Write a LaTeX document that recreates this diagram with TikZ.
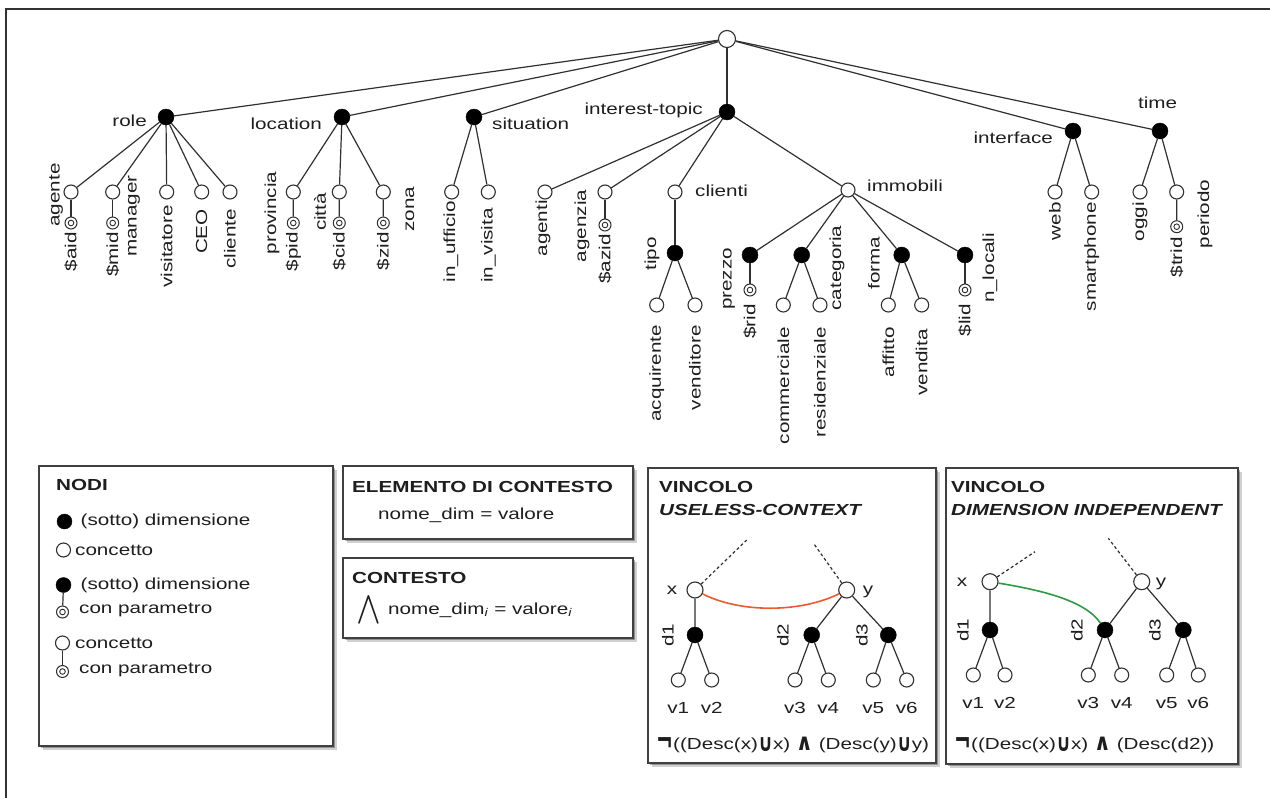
\documentclass[tikz,border=0pt]{standalone}
\usepackage{fontspec}
\setmainfont{Liberation Sans}[FakeStretch=1.29]
\newfontfamily\symfont{DejaVu Sans}[FakeStretch=1.1]
\usetikzlibrary{shadows}
\definecolor{ink}{HTML}{1E1E1E}
\definecolor{linec}{HTML}{303030}
\definecolor{uselessred}{HTML}{EE5A2F}
\definecolor{indepgreen}{HTML}{2F9A45}
% heavy logical operators used in the constraint formulas
\newcommand{\unionop}{\raisebox{-1.5pt}{\scalebox{1.05}[1.5]{\symfont\bfseries ∪}}}
\newcommand{\andop}{\raisebox{-0.5pt}{\scalebox{1.2}[1.45]{\symfont\bfseries ∧}}}
\newcommand{\notop}{\raisebox{-3pt}{\scalebox{1.15}[2.1]{\symfont\bfseries ¬}}}
\newcommand{\idx}{\textsubscript{\textit{i}}}

\begin{document}
\begin{tikzpicture}[x=1pt, y=-1pt,
  font=\fontsize{16pt}{19pt}\selectfont,
  edge/.style={draw=linec, line width=1.2pt},
  dash edge/.style={draw=linec, line width=1.2pt, dash pattern=on 3pt off 2.5pt},
  dim/.style={circle, fill=black, draw=black, minimum size=16pt, inner sep=0pt},
  conc/.style={circle, fill=white, draw=linec, line width=1.1pt, minimum size=14pt, inner sep=0pt},
  par/.style={circle, fill=white, draw=linec, line width=1pt, minimum size=12pt, inner sep=0pt,
    path picture={\draw[linec, line width=0.9pt] (path picture bounding box.center) circle (2.8pt);}},
  lbl/.style={inner sep=0pt, text=ink},
  vlbl/.style={lbl, rotate=90},
  hang/.style={vlbl, anchor=east},
  panel/.style={draw=black!75, line width=1.5pt, fill=white, inner sep=0pt, anchor=north west,
    drop shadow={shadow xshift=4pt, shadow yshift=-4pt, fill=black, opacity=0.18},
    drop shadow={shadow xshift=2pt, shadow yshift=-2pt, fill=black, opacity=0.3}},
  title/.style={lbl, font=\fontsize{16pt}{19pt}\selectfont\bfseries, anchor=west},
  frame/.style={draw=black!80, line width=1.5pt}]

\useasboundingbox (0,0) rectangle (1270,798);

% outer frame (top and left edges)
\coordinate (fr-tr) at (1270,9);
\coordinate (fr-tl) at (6,9);
\coordinate (fr-bl) at (6,798);
\draw[frame] (fr-tr) -- (fr-tl) -- (fr-bl);

% ---------------- context dimension tree ----------------
\node[conc, minimum size=17pt] (root) at (727,39) {};
\node[dim] (role) at (166,117) {};
\node[dim] (location) at (342,117) {};
\node[dim] (situation) at (474,117) {};
\node[dim] (topic) at (727,112) {};
\node[dim] (interface) at (1073,131) {};
\node[dim] (time) at (1160,131) {};
\foreach \d in {role,location,situation,topic,interface,time}
  \draw[edge] (root) -- (\d);

\node[lbl, anchor=base east] (l-role) at (147,126.5) {role};
\node[lbl, anchor=base east] (l-location) at (322,129) {location};
\node[lbl, anchor=base west] (l-situation) at (492,129) {situation};
\node[lbl, anchor=base east] (l-topic) at (703,114) {interest-topic};
\node[lbl, anchor=base east] (l-interface) at (1053,143.3) {interface};
\node[lbl, anchor=base] (l-time) at (1157.5,108.3) {time};

% role
\foreach \n/\x in {agente/71,manager/112.7,visitatore/166.7,ceo/201.7,cliente/230}{
  \node[conc] (\n) at (\x,192) {};
  \draw[edge] (role) -- (\n);}
\node[par] (aid) at (71,223) {};
\node[par] (mid) at (112.7,223) {};
\draw[edge] (agente) -- (aid) (manager) -- (mid);
\node[vlbl] (l-agente) at (56,195) {agente};
\node[hang] (l-aid) at (71,232) {\$aid};
\node[hang] (l-mid) at (112.7,232) {\$mid};
\node[vlbl] (l-manager) at (134,216) {manager};
\node[hang] (l-visitatore) at (166.7,205) {visitatore};
\node[hang] (l-ceo) at (201.7,209) {CEO};
\node[hang] (l-cliente) at (230,209) {cliente};

% location
\foreach \n/\x/\p in {provincia/293.3/pid,citta/339.3/cid,zona/383.3/zid}{
  \node[conc] (\n) at (\x,192) {};
  \node[par] (\p) at (\x,223) {};
  \draw[edge] (location) -- (\n) (\n) -- (\p);}
\node[vlbl] (l-provincia) at (272,213) {provincia};
\node[hang] (l-pid) at (293.3,232) {\$pid};
\node[vlbl] (l-citta) at (320,212) {città};
\node[hang] (l-cid) at (339.3,232) {\$cid};
\node[hang] (l-zid) at (383.3,232) {\$zid};
\node[vlbl] (l-zona) at (410,209) {zona};

% situation
\node[conc] (ufficio) at (451.7,192) {};
\node[conc] (visita) at (488.3,192) {};
\draw[edge] (situation) -- (ufficio) (situation) -- (visita);
\node[hang] (l-ufficio) at (451,201) {in\_ufficio};
\node[hang] (l-visita) at (488.3,208) {in\_visita};

% interest-topic
\node[conc] (agenti) at (545,192) {};
\node[conc] (agenzia) at (605,192) {};
\node[conc] (clienti) at (675,192) {};
\node[conc] (immobili) at (848,190) {};
\foreach \n in {agenti,agenzia,clienti,immobili} \draw[edge] (topic) -- (\n);
\node[par] (azid) at (605,225) {};
\draw[edge] (agenzia) -- (azid);
\node[hang] (l-agenti) at (543,200) {agenti};
\node[vlbl] (l-agenzia) at (582,226) {agenzia};
\node[hang] (l-azid) at (605,234) {\$azid};
\node[lbl, anchor=base west] (l-clienti) at (695,196) {clienti};
\node[lbl, anchor=base west] (l-immobili) at (867,191.5) {immobili};

% clienti
\node[dim] (tipo) at (675,253) {};
\draw[edge] (clienti) -- (tipo);
\node[conc] (acquirente) at (656.7,305) {};
\node[conc] (venditore) at (695,305) {};
\draw[edge] (tipo) -- (acquirente) (tipo) -- (venditore);
\node[vlbl] (l-tipo) at (652,254) {tipo};
\node[hang] (l-acquirente) at (656.7,325) {acquirente};
\node[hang] (l-venditore) at (695,325) {venditore};

% immobili
\node[dim] (prezzo) at (750,255) {};
\node[dim] (categoria) at (801.7,255) {};
\node[dim] (forma) at (901.7,255) {};
\node[dim] (nlocali) at (965,255) {};
\foreach \n in {prezzo,categoria,forma,nlocali} \draw[edge] (immobili) -- (\n);
\node[par] (rid) at (750,290) {};
\node[par] (lid) at (965,290) {};
\draw[edge] (prezzo) -- (rid) (nlocali) -- (lid);
\node[conc] (commerciale) at (783.3,305) {};
\node[conc] (residenziale) at (820,305) {};
\node[conc] (affitto) at (888.3,305) {};
\node[conc] (vendita) at (921.7,305) {};
\draw[edge] (categoria) -- (commerciale) (categoria) -- (residenziale)
            (forma) -- (affitto) (forma) -- (vendita);
\node[vlbl] (l-prezzo) at (729,279) {prezzo};
\node[hang] (l-rid) at (750,304) {\$rid};
\node[vlbl] (l-categoria) at (837,268) {categoria};
\node[hang] (l-commerciale) at (783.3,327) {commerciale};
\node[hang] (l-residenziale) at (820,327) {residenziale};
\node[vlbl] (l-forma) at (874,263) {forma};
\node[hang] (l-affitto) at (888.3,327) {affitto};
\node[hang] (l-vendita) at (921.7,329) {vendita};
\node[hang] (l-lid) at (965,304) {\$lid};
\node[vlbl] (l-nlocali) at (990,268) {n\_locali};

% interface
\node[conc] (web) at (1055,192) {};
\node[conc] (smartphone) at (1091.7,192) {};
\draw[edge] (interface) -- (web) (interface) -- (smartphone);
\node[hang] (l-web) at (1055,202) {web};
\node[hang] (l-smartphone) at (1091.7,202) {smartphone};

% time
\node[conc] (oggi) at (1140,192) {};
\node[conc] (periodo) at (1176.7,192) {};
\node[par] (trid) at (1176.7,226.7) {};
\draw[edge] (time) -- (oggi) (time) -- (periodo) (periodo) -- (trid);
\node[hang] (l-oggi) at (1140,202) {oggi};
\node[hang] (l-trid) at (1176.7,237) {\$trid};
\node[vlbl] (l-periodo) at (1205,214) {periodo};

% ---------------- legend panels ----------------
\node[panel, minimum width=294pt, minimum height=280pt] (p-nodi) at (38,465) {};
\node[panel, minimum width=290pt, minimum height=73pt] (p-elem) at (342,465) {};
\node[panel, minimum width=290pt, minimum height=80pt] (p-ctx) at (342,557) {};
\node[panel, minimum width=288pt, minimum height=295pt] (p-useless) at (647,467) {};
\node[panel, minimum width=292pt, minimum height=296pt] (p-indep) at (945,467) {};

% NODI
\node[title] (t-nodi) at (56,485) {NODI};
\node[dim, minimum size=15pt] (k-dim) at (64.5,521.5) {};
\node[lbl, anchor=west] (k-dim-t) at (80.5,521) {(sotto) dimensione};
\node[conc] (k-conc) at (63.5,550) {};
\node[lbl, anchor=west] (k-conc-t) at (75,550) {concetto};
\node[dim, minimum size=15pt] (k-pdim) at (63.5,585) {};
\node[lbl, anchor=west] (k-pdim-t) at (80.5,585) {(sotto) dimensione};
\node[par] (k-pdim-p) at (62.5,612) {};
\draw[edge] (k-pdim) -- (k-pdim-p);
\node[lbl, anchor=west] (k-pdim-p-t) at (79,610) {con parametro};
\node[conc] (k-pconc) at (62.5,643) {};
\node[lbl, anchor=west] (k-pconc-t) at (75,643) {concetto};
\node[par] (k-pconc-p) at (62.5,671.5) {};
\draw[edge] (k-pconc) -- (k-pconc-p);
\node[lbl, anchor=west] (k-pconc-p-t) at (79,669.5) {con parametro};

% ELEMENTO DI CONTESTO
\node[title] (t-elem) at (352,487) {ELEMENTO DI CONTESTO};
\node[lbl, anchor=west] (elem-t) at (378,515) {nome\_dim = valore};

% CONTESTO
\node[title, anchor=base west] (t-ctx) at (352,583) {CONTESTO};
\node[lbl, text height=19pt, text depth=9pt] (ctx-and) at (369,614)
  {\scalebox{2.05}{$\displaystyle\bigwedge$}};
\node[lbl, anchor=west] (ctx-t) at (388,610) {nome\_dim\idx{} = valore\idx};

% VINCOLO USELESS-CONTEXT
\node[title] (t-u1) at (659,487) {VINCOLO};
\node[title, font=\fontsize{16pt}{19pt}\selectfont\bfseries\itshape] (t-u2) at (659,510) {USELESS-CONTEXT};
\node[conc, minimum size=16pt] (ux) at (695,590) {};
\node[conc, minimum size=16pt] (uy) at (846.7,590) {};
\coordinate (ux-up) at (746.7,540);
\coordinate (uy-up) at (813.3,543);
\draw[dash edge] (ux) -- (ux-up) (uy) -- (uy-up);
\node[dim] (ud1) at (695,635) {};
\node[dim] (ud2) at (811.7,635) {};
\node[dim] (ud3) at (888.3,635) {};
\draw[edge] (ux) -- (ud1) (uy) -- (ud2) (uy) -- (ud3);
\foreach \i/\x/\p in {1/678.3/ud1,2/711.7/ud1,3/795/ud2,4/828.3/ud2,5/873.3/ud3,6/906.7/ud3}{
  \node[conc] (uv\i) at (\x,680) {};
  \draw[edge] (\p) -- (uv\i);
  \node[lbl] (l-uv\i) at (\x,708) {v\i};}
\node[lbl] (l-ux) at (672,590) {x};
\node[lbl] (l-uy) at (868,592) {y};
\node[vlbl] (l-ud1) at (668,635) {d1};
\node[vlbl] (l-ud2) at (783,635) {d2};
\node[vlbl] (l-ud3) at (862,635) {d3};
\draw[draw=uselessred, line width=1.6pt] (ux) .. controls (740,613) and (800,613) .. (uy);
\node[lbl, anchor=west] (u-formula) at (656,745) {\notop((Desc(x)\unionop x) \andop{} (Desc(y)\unionop y)};

% VINCOLO DIMENSION INDEPENDENT
\node[title] (t-i1) at (951,487) {VINCOLO};
\node[title, font=\fontsize{16pt}{19pt}\selectfont\bfseries\itshape] (t-i2) at (951,510) {DIMENSION INDEPENDENT};
\node[conc, minimum size=16pt] (ix) at (990,581.7) {};
\node[conc, minimum size=16pt] (iy) at (1141.7,581.7) {};
\coordinate (ix-up) at (1035,551.7);
\coordinate (iy-up) at (1108.3,538.3);
\draw[dash edge] (ix) -- (ix-up) (iy) -- (iy-up);
\node[dim] (id1) at (990,630) {};
\node[dim] (id2) at (1105,630) {};
\node[dim] (id3) at (1183.3,630) {};
\draw[edge] (ix) -- (id1) (iy) -- (id2) (iy) -- (id3);
\foreach \i/\x/\p in {1/973.3/id1,2/1005/id1,3/1088.3/id2,4/1121.7/id2,5/1166.7/id3,6/1198.3/id3}{
  \node[conc] (iv\i) at (\x,675) {};
  \draw[edge] (\p) -- (iv\i);
  \node[lbl] (l-iv\i) at (\x,703) {v\i};}
\node[lbl] (l-ix) at (962,582) {x};
\node[lbl] (l-iy) at (1161,584) {y};
\node[vlbl] (l-id1) at (963,630) {d1};
\node[vlbl] (l-id2) at (1077,630) {d2};
\node[vlbl] (l-id3) at (1155,630) {d3};
\draw[draw=indepgreen, line width=1.6pt] (ix) .. controls (1040,590) and (1085,600) .. (id2);
\node[lbl, anchor=west] (i-formula) at (954,745) {\notop((Desc(x)\unionop x) \andop{} (Desc(d2))};

\end{tikzpicture}
\end{document}
